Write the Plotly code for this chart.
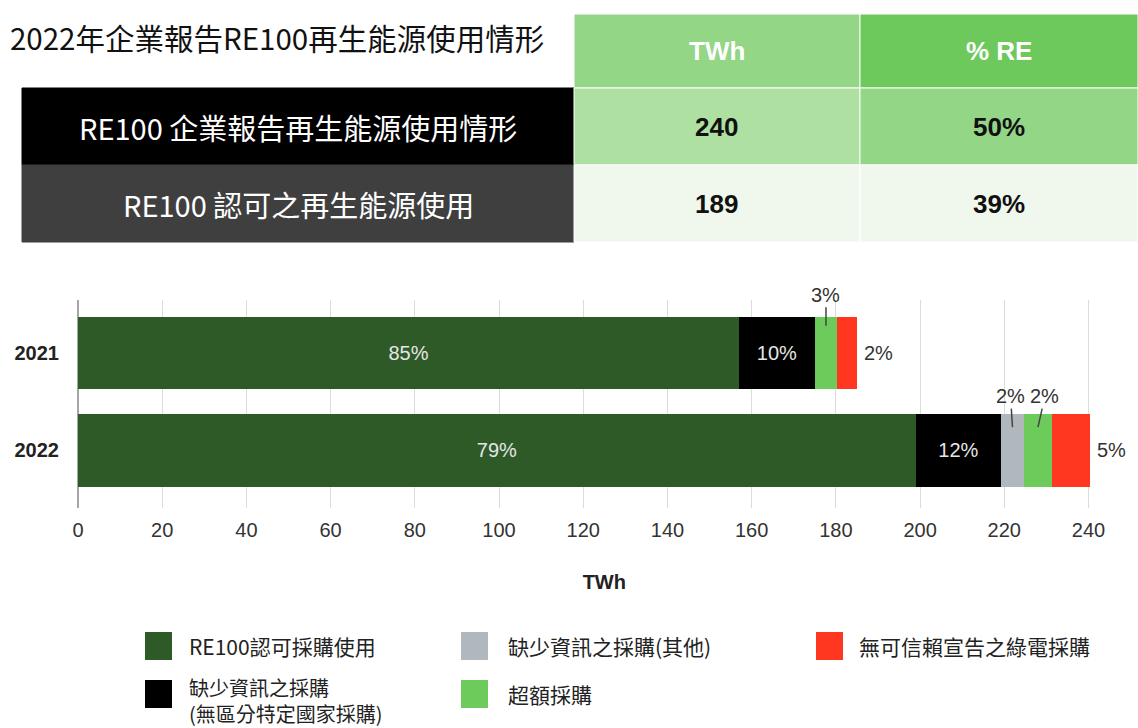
import plotly.graph_objects as go

# ---------------- data ----------------
title_text = "2022年企業報告RE100再生能源使用情形"
table_cols = ["TWh", "% RE"]
table_rows = ["RE100 企業報告再生能源使用情形", "RE100 認可之再生能源使用"]
table_twh = ["240", "189"]
table_re = ["50%", "39%"]

years = ["2021", "2022"]
series_names = [
    "RE100認可採購使用",
    "缺少資訊之採購<br>(無區分特定國家採購)",
    "缺少資訊之採購(其他)",
    "超額採購",
    "無可信賴宣告之綠電採購",
]
re100_credible = [157, 199]
unspecified_country = [18, 20.2]
missing_other = [0, 5.5]
excess = [5.3, 6.6]
not_credible = [4.7, 9.1]

pct_re100 = ["85%", "79%"]
pct_unspecified = ["10%", "12%"]
pct_other = ["", "2%"]
pct_excess = ["3%", "2%"]
pct_not_credible = ["2%", "5%"]

x_ticks = list(range(0, 241, 20))

# ---------------- style ----------------
W, H = 1138, 728
colors = ["#2E5A27", "#000000", "#B1B8BD", "#6CCB5A", "#FF3620"]
CJK = "Noto Sans CJK TC, Noto Sans CJK SC, sans-serif"
ARIAL = "Liberation Sans, Arial, sans-serif"


def px(x):
    return x / W


def py(y):
    return 1 - y / H


series = [re100_credible, unspecified_country, missing_other, excess, not_credible]
labels = [pct_re100, pct_unspecified, pct_other, pct_excess, pct_not_credible]
inside = [True, True, False, False, False]

fig = go.Figure()
for i, (vals, name) in enumerate(zip(series, series_names)):
    fig.add_trace(go.Bar(
        y=years, x=vals, orientation="h", name=name,
        marker=dict(color=colors[i], line=dict(width=0)),
        width=0.745,
        text=labels[i] if inside[i] else None,
        textposition="inside", insidetextanchor="middle",
        textfont=dict(family=ARIAL, size=20, color="#e6e6e6"),
        showlegend=False,
        hoverinfo="x+name",
    ))

annotations = []
shapes = []

# leader-line labels for small segments, outside labels for last segment
label_dx = {2: -2, 3: 7}
for yi, yr in enumerate(years):
    cum = 0
    starts = []
    for vals in series:
        starts.append(cum)
        cum += vals[yi]
    total = cum
    for si in (2, 3):
        txt = labels[si][yi]
        if not txt:
            continue
        xc = starts[si] + series[si][yi] / 2
        dy = -0.28 if yi == 0 else -0.24
        annotations.append(dict(
            x=xc, y=yi + dy, xref="x", yref="y", text=txt,
            showarrow=True, arrowhead=0, arrowwidth=1.5, arrowcolor="#444",
            ax=label_dx[si] if yi == 1 else 0, ay=-31, standoff=0,
            xanchor="center", yanchor="middle",
            font=dict(family=ARIAL, size=20, color="#333"),
        ))
    annotations.append(dict(
        x=total, y=yi, xref="x", yref="y", text=labels[4][yi],
        showarrow=False, xanchor="left", yanchor="middle", xshift=5,
        font=dict(family=ARIAL, size=20, color="#333"),
    ))

# title
annotations.append(dict(
    x=px(8), y=py(37), xref="paper", yref="paper", text=title_text,
    showarrow=False, xanchor="left", yanchor="middle",
    font=dict(family=CJK, size=29.5, color="#111"),
))

# summary table
col_edges = [22, 574, 860, 1138]
row_edges = [14, 88, 165, 242]
header_fill = ["#93D686", "#6DC95B"]
row_fills = [["#000000", "#AEE0A2", "#93D686"], ["#3F3F3F", "#F0F8EE", "#F0F8EE"]]

for ci in range(2):
    shapes.append(dict(type="rect", xref="paper", yref="paper",
                       x0=px(col_edges[ci + 1]), x1=px(col_edges[ci + 2]),
                       y0=py(row_edges[1]), y1=py(row_edges[0]),
                       fillcolor=header_fill[ci], line=dict(color="white", width=1), layer="below"))
    annotations.append(dict(
        x=px((col_edges[ci + 1] + col_edges[ci + 2]) / 2), y=py((row_edges[0] + row_edges[1]) / 2),
        xref="paper", yref="paper", text=table_cols[ci], showarrow=False,
        xanchor="center", yanchor="middle",
        font=dict(family=ARIAL, size=26, color="white", weight="bold"),
    ))

for ri in range(2):
    y0, y1 = row_edges[ri + 1], row_edges[ri + 2]
    yc = py((y0 + y1) / 2)
    for ci in range(3):
        shapes.append(dict(type="rect", xref="paper", yref="paper",
                           x0=px(col_edges[ci]), x1=px(col_edges[ci + 1]),
                           y0=py(y1), y1=py(y0),
                           fillcolor=row_fills[ri][ci],
                           line=dict(color="white" if ci else row_fills[ri][0], width=1), layer="below"))
    annotations.append(dict(
        x=px((col_edges[0] + col_edges[1]) / 2), y=yc, xref="paper", yref="paper",
        text=table_rows[ri], showarrow=False, xanchor="center", yanchor="middle",
        font=dict(family=CJK, size=29, color="white"),
    ))
    annotations.append(dict(
        x=px((col_edges[1] + col_edges[2]) / 2), y=yc, xref="paper", yref="paper",
        text=table_twh[ri], showarrow=False, xanchor="center", yanchor="middle",
        font=dict(family=ARIAL, size=26, color="#111", weight="bold"),
    ))
    annotations.append(dict(
        x=px((col_edges[2] + col_edges[3]) / 2), y=yc, xref="paper", yref="paper",
        text=table_re[ri], showarrow=False, xanchor="center", yanchor="middle",
        font=dict(family=ARIAL, size=26, color="#111", weight="bold"),
    ))

# custom legend (3 columns, column-major)
legend_slots = [(145, 646), (145, 694), (461, 646), (461, 694), (816, 646)]
legend_text_x = [187, 187, 506, 506, 857]
for i, (lx, ly) in enumerate(legend_slots):
    shapes.append(dict(type="rect", xref="paper", yref="paper",
                       x0=px(lx), x1=px(lx + 27), y0=py(ly + 14), y1=py(ly - 14),
                       fillcolor=colors[i], line=dict(width=0)))
    two_line = "<br>" in series_names[i]
    annotations.append(dict(
        x=px(legend_text_x[i]), y=py(ly + 6 if two_line else ly), xref="paper", yref="paper",
        text=series_names[i], showarrow=False, xanchor="left",
        yanchor="middle", align="left",
        font=dict(family=CJK, size=20 if two_line else 21, color="#222"),
    ))

fig.update_layout(
    width=W, height=H,
    margin=dict(l=0, r=0, t=0, b=0, autoexpand=False),
    paper_bgcolor="white", plot_bgcolor="white",
    barmode="stack", bargap=0.25,
    showlegend=False,
    xaxis=dict(
        domain=[px(78), px(78 + 250 * 4.2104)],
        range=[0, 250], tickvals=x_ticks,
        showgrid=True, gridcolor="#dcdcdc", gridwidth=1,
        zeroline=True, zerolinecolor="#a6a6a6", zerolinewidth=2,
        showline=False, ticks="outside", ticklen=4, tickcolor="rgba(0,0,0,0)",
        tickfont=dict(family=ARIAL, size=20, color="#333"),
        title=dict(text="TWh", standoff=34,
                   font=dict(family=ARIAL, size=20, color="#222", weight="bold")),
        anchor="y", fixedrange=True, automargin=False,
    ),
    yaxis=dict(
        domain=[py(508), py(300)],
        type="category", categoryarray=years, categoryorder="array",
        range=[1.59, -0.544],
        showgrid=False, zeroline=False, showline=False,
        ticks="outside", ticklen=14, tickcolor="rgba(0,0,0,0)",
        tickfont=dict(family=ARIAL, size=20, color="#222", weight="bold"),
        fixedrange=True, automargin=False,
    ),
    shapes=shapes,
    annotations=annotations,
)

fig.write_html(
    "out.html",
    config={"displayModeBar": False},
    post_script="document.body.style.margin='0';document.documentElement.style.overflow='hidden';",
)
